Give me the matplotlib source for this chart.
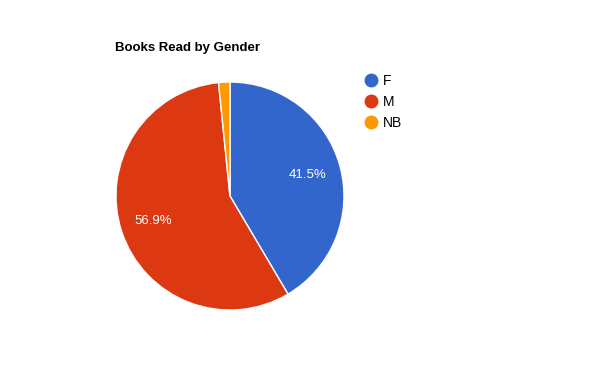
import matplotlib.pyplot as plt
from matplotlib.lines import Line2D

# datos del gráfico
labels = ['F', 'M', 'NB']
shares = [41.5, 56.9, 1.6]
colors = ['#3366cc', '#dc3912', '#ff9900']
title = 'Books Read by Gender'

plt.rcParams['font.family'] = ['Liberation Sans', 'DejaVu Sans']

fig = plt.figure(figsize=(6, 3.9), dpi=100)
ax = fig.add_axes([0.1933, 0.2051, 0.38, 0.5846])


def pct(p):
    return f'{p:.1f}%' if p >= 5 else ''


ax.pie(shares, colors=colors, startangle=90, counterclock=False,
       autopct=pct, pctdistance=0.71,
       textprops={'color': 'white', 'fontsize': 9.5},
       wedgeprops={'edgecolor': 'white', 'linewidth': 1})
ax.set_xlim(-1, 1)
ax.set_ylim(-1, 1)
ax.set_aspect('equal')

fig.text(115 / 600, 1 - 48 / 390, title, fontsize=9.5, fontweight='bold',
         va='center', ha='left')

handles = [Line2D([], [], marker='o', linestyle='', markersize=9,
                  markerfacecolor=c, markeredgecolor=c) for c in colors]
fig.legend(handles, labels, loc='upper left',
           bbox_to_anchor=(365 / 600, 1 - 74 / 390), frameon=False,
           fontsize=10, handlelength=0.8, handletextpad=0.5,
           labelspacing=0.5, borderaxespad=0, borderpad=0)

fig.savefig('out.png', dpi=100)
